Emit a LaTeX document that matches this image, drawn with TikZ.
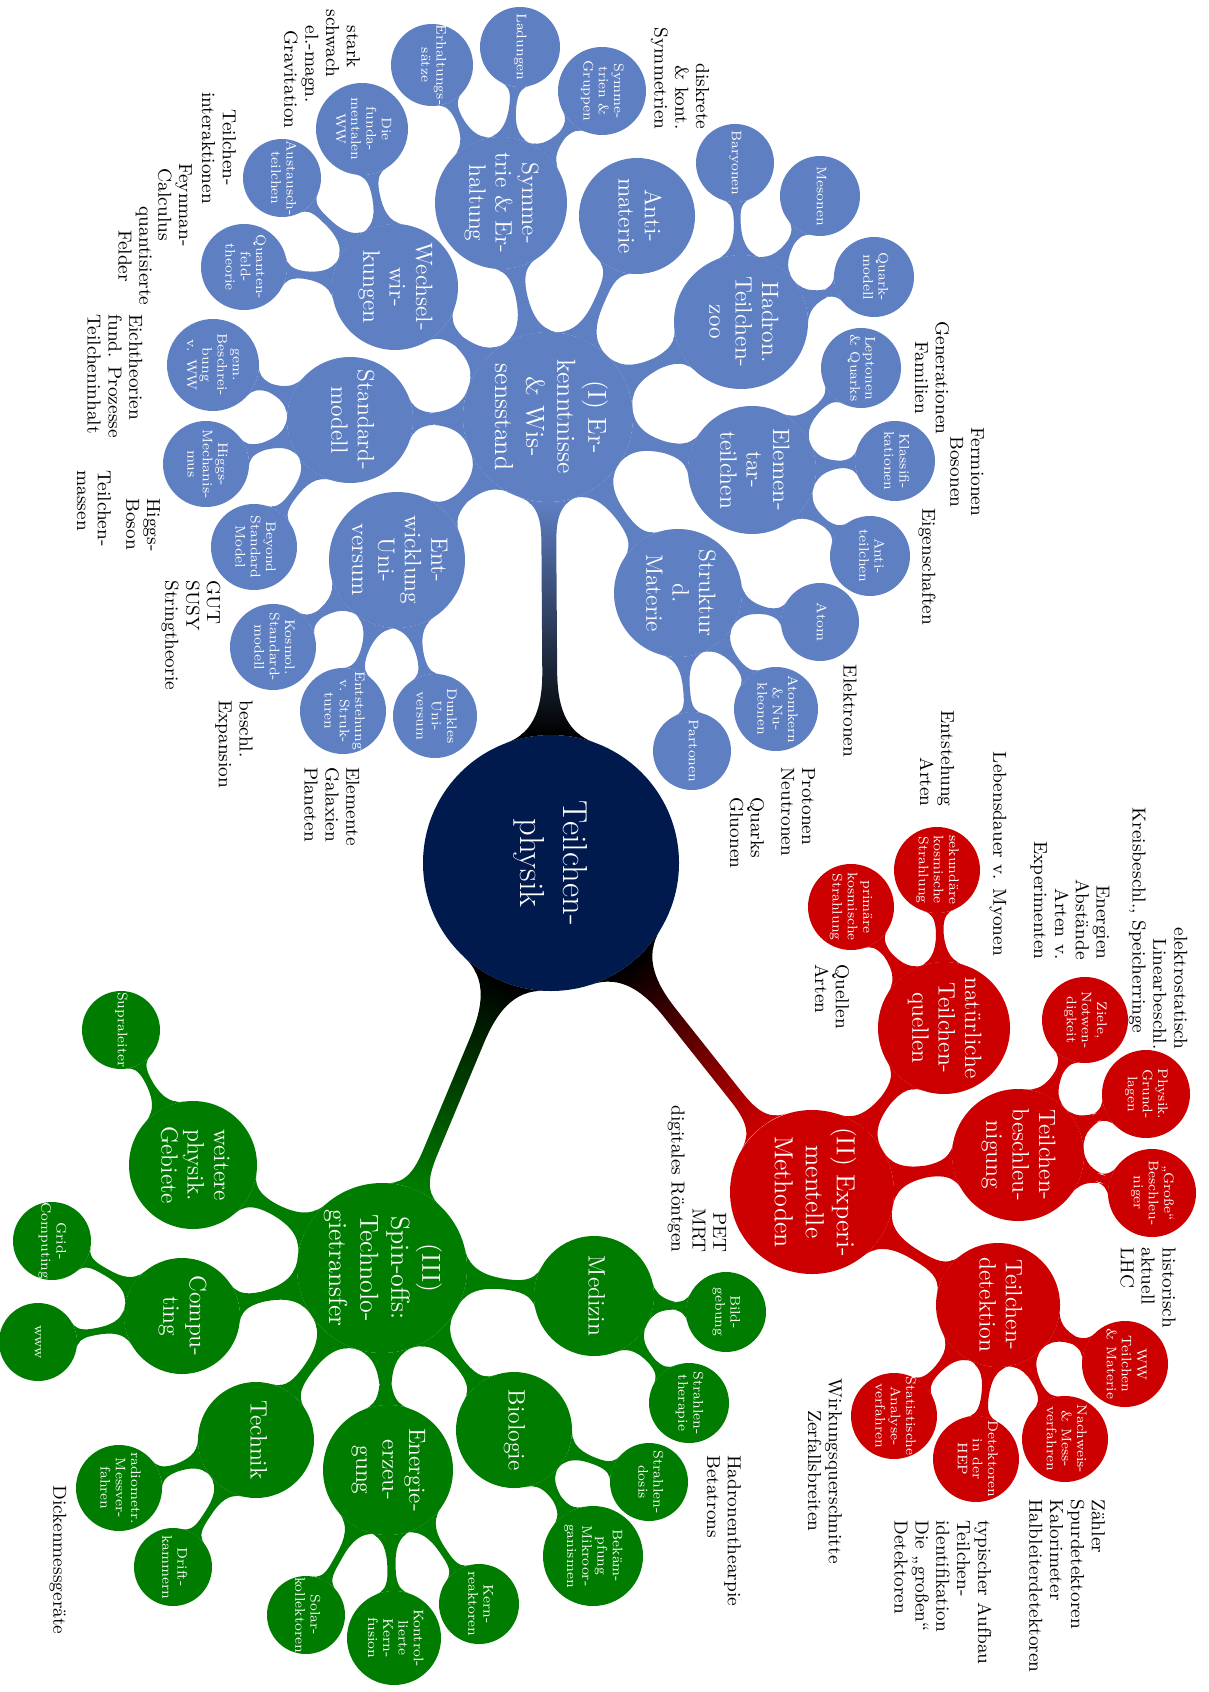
\documentclass[tikz,border=0pt]{standalone}
\usepackage{graphicx}
\usetikzlibrary{mindmap}
\pgfdeclarelayer{background}
\pgfsetlayers{background,main}
\definecolor{cblue}{RGB}{94,127,194}
\definecolor{cred}{RGB}{204,0,0}
\definecolor{cgreen}{RGB}{0,125,0}
\definecolor{croot}{RGB}{0,26,77}
\newlength\pxu \setlength\pxu{0.01755cm}
\newcommand\rtx[1]{\makebox[0pt]{\smash{\raisebox{\dimexpr-.5\height+.5\depth\relax}{\rotatebox{-90}{\begin{tabular}{@{}c@{}}#1\end{tabular}}}}}}
\begin{document}
\begin{tikzpicture}[x=\pxu,y=-\pxu,
  cpt/.style={circle,inner sep=0pt,outer sep=0pt,text=white,minimum size=2*#1*\pxu},
  f0/.style={font=\fontsize{17.3}{21.5}\selectfont},
  f1/.style={font=\fontsize{13}{15.5}\selectfont},
  f2/.style={font=\fontsize{11.8}{13.2}\selectfont},
  f3/.style={font=\fontsize{6.9}{7.6}\selectfont},
  B/.style={cpt=#1,fill=cblue}, R/.style={cpt=#1,fill=cred}, G/.style={cpt=#1,fill=cgreen},
  ann/.style={rotate=-90,inner sep=0pt,font=\fontsize{9.4}{10.4}\selectfont},
  annl/.style={ann,anchor=west,align=left},
  annr/.style={ann,anchor=east,align=right},
  annc/.style={ann,anchor=center,align=center},
  bb/.style={circle connection bar switch color=from (cblue) to (cblue)},
  rr/.style={circle connection bar switch color=from (cred) to (cred)},
  gg/.style={circle connection bar switch color=from (cgreen) to (cgreen)}]
\useasboundingbox (0,0) rectangle (1208,1692);
% root and hubs
\node[cpt=128,fill=croot,f0] (root) at (551,863) {\rtx{Teilchen-\\physik}};
\node[B=85,f1] (h1) at (548,417) {\rtx{(I) Er-\\kenntnisse\\\& Wis-\\sensstand}};
\node[R=82,f1] (h2) at (812,1192) {\rtx{(II) Experi-\\mentelle\\Methoden}};
\node[G=85,f1] (h3) at (382,1268) {\rtx{(III)\\Spin-offs:\\Technolo-\\gietransfer}};
% blue level 2
\node[B=66,f2] (sym) at (501,203) {\rtx{Symme-\\trie \& Er-\\haltung}};
\node[B=58,f2] (anti) at (637,216) {\rtx{Anti-\\materie}};
\node[B=67,f2] (hadr) at (741,322) {\rtx{Hadron.\\Teilchen-\\zoo}};
\node[B=64,f2] (elem) at (752,470) {\rtx{Elemen-\\tar-\\teilchen}};
\node[B=64,f2] (strukt) at (678,593) {\rtx{Struktur\\d.\\Materie}};
\node[B=68,f2] (entw) at (397,560) {\rtx{Ent-\\wicklung\\Uni-\\versum}};
\node[B=63,f2] (stdm) at (350,420) {\rtx{Standard-\\modell}};
\node[B=63,f2] (wech) at (395,287) {\rtx{Wechsel-\\wir-\\kungen}};
% blue level 3
\node[B=41,f3] (erh) at (432,65) {\rtx{Erhaltungs-\\sätze}};
\node[B=40,f3] (lad) at (520,47) {\rtx{Ladungen}};
\node[B=44,f3] (symgr) at (602,91) {\rtx{Symme-\\trien \&\\Gruppen}};
\node[B=39,f3] (bary) at (735,163) {\rtx{Baryonen}};
\node[B=40,f3] (meso) at (820,196) {\rtx{Mesonen}};
\node[B=40,f3] (qmod) at (874,277) {\rtx{Quark-\\modell}};
\node[B=40,f3] (lepq) at (861,368) {\rtx{Leptonen\\\& Quarks}};
\node[B=40,f3] (klass) at (895,461) {\rtx{Klassifi-\\kationen}};
\node[B=40,f3] (antit) at (870,556) {\rtx{Anti-\\teilchen}};
\node[B=39,f3] (atom) at (820,622) {\rtx{Atom}};
\node[B=42,f3] (akern) at (776,709) {\rtx{Atomkern\\\& Nu-\\kleonen}};
\node[B=39,f3] (part) at (692,751) {\rtx{Partonen}};
\node[B=42,f3] (dunk) at (435,716) {\rtx{Dunkles\\Uni-\\versum}};
\node[B=43,f3] (entst) at (343,711) {\rtx{Entstehung\\v. Struk-\\turen}};
\node[B=43,f3] (kosm) at (273,647) {\rtx{Kosmol.\\Standard-\\modell}};
\node[B=43,f3] (beyond) at (254,547) {\rtx{Beyond\\Standard\\Model}};
\node[B=43,f3] (higgs) at (206,464) {\rtx{Higgs-\\Mechanis-\\mus}};
\node[B=46,f3] (gemb) at (213,365) {\rtx{gem.\\Beschrei-\\bung\\v. WW}};
\node[B=43,f3] (qft) at (244,267) {\rtx{Quanten-\\feld-\\theorie}};
\node[B=39,f3] (aust) at (282,178) {\rtx{Austausch-\\teilchen}};
\node[B=46,f3] (fww) at (362,129) {\rtx{Die\\funda-\\mentalen\\WW}};
% red
\node[R=66,f2] (natq) at (944,1028) {\rtx{natürliche\\Teilchen-\\quellen}};
\node[R=66,f2] (beschl) at (1018,1155) {\rtx{Teilchen-\\beschleu-\\nigung}};
\node[R=62,f2] (detek) at (998,1305) {\rtx{Teilchen-\\detektion}};
\node[R=43,f3] (sek) at (937,870) {\rtx{sekundäre\\kosmische\\Strahlung}};
\node[R=43,f3] (prim) at (851,907) {\rtx{primäre\\kosmische\\Strahlung}};
\node[R=43,f3] (ziele) at (1085,1020) {\rtx{Ziele,\\Notwen-\\digkeit}};
\node[R=44,f3] (phys) at (1146,1094) {\rtx{Physik.\\Grund-\\lagen}};
\node[R=44,f3] (gross) at (1152,1193) {\rtx{„Große“\\Beschleu-\\niger}};
\node[R=43,f3] (wwtm) at (1125,1364) {\rtx{WW\\Teilchen\\\& Materie}};
\node[R=43,f3] (nachw) at (1065,1439) {\rtx{Nachweis-\\\& Mess-\\verfahren}};
\node[R=43,f3] (dhep) at (976,1459) {\rtx{Detektoren\\in der\\HEP}};
\node[R=43,f3] (stat) at (894,1416) {\rtx{Statistische\\Analyse-\\verfahren}};
% green
\node[G=60,f2] (med) at (594,1296) {\rtx{Medizin}};
\node[G=58,f2] (bio) at (514,1430) {\rtx{Biologie}};
\node[G=65,f2] (energ) at (388,1470) {\rtx{Energie-\\erzeu-\\gung}};
\node[G=58,f2] (tech) at (256,1440) {\rtx{Technik}};
\node[G=58,f2] (comp) at (182,1316) {\rtx{Compu-\\ting}};
\node[G=64,f2] (weit) at (193,1165) {\rtx{weitere\\physik.\\Gebiete}};
\node[G=40,f3] (bild) at (726,1312) {\rtx{Bild-\\gebung}};
\node[G=40,f3] (sther) at (689,1403) {\rtx{Strahlen-\\therapie}};
\node[G=39,f3] (sdos) at (649,1482) {\rtx{Strahlen-\\dosis}};
\node[G=50,f3] (bek) at (593,1556) {\rtx{Bekäm-\\pfung\\Mikroor-\\ganismen}};
\node[G=40,f3] (kernr) at (479,1604) {\rtx{Kern-\\reaktoren}};
\node[G=47,f3] (kfus) at (394,1638) {\rtx{Kontrol-\\lierte\\Kern-\\fusion}};
\node[G=39,f3] (solar) at (306,1615) {\rtx{Solar-\\kollektoren}};
\node[G=39,f3] (drift) at (173,1567) {\rtx{Drift-\\kammern}};
\node[G=43,f3] (radio) at (119,1488) {\rtx{radiometr.\\Messver-\\fahren}};
\node[G=39,f3] (www) at (38,1342) {\rtx{www}};
\node[G=39,f3] (grid) at (52,1241) {\rtx{Grid-\\Computing}};
\node[G=39,f3] (supra) at (121,1030) {\rtx{Supraleiter}};
% connection bars
\begin{pgfonlayer}{background}
\fill[white] (0,0) rectangle (1208,1692);
\path (root) to[circle connection bar switch color=from (black) to (cblue)] (h1);
\path (root) to[circle connection bar switch color=from (black) to (cred)] (h2);
\path (root) to[circle connection bar switch color=from (black) to (cgreen)] (h3);
\foreach \a in {sym,anti,hadr,elem,strukt,entw,stdm,wech} {\path (h1) to[bb] (\a);}
\foreach \a/\b in {sym/erh,sym/lad,sym/symgr,hadr/bary,hadr/meso,hadr/qmod,elem/lepq,elem/klass,elem/antit,strukt/atom,strukt/akern,strukt/part,entw/dunk,entw/entst,entw/kosm,stdm/beyond,stdm/higgs,stdm/gemb,wech/qft,wech/aust,wech/fww} {\path (\a) to[bb] (\b);}
\foreach \a in {natq,beschl,detek} {\path (h2) to[rr] (\a);}
\foreach \a/\b in {natq/sek,natq/prim,beschl/ziele,beschl/phys,beschl/gross,detek/wwtm,detek/nachw,detek/dhep,detek/stat} {\path (\a) to[rr] (\b);}
\foreach \a in {med,bio,energ,tech,comp,weit} {\path (h3) to[gg] (\a);}
\foreach \a/\b in {med/bild,med/sther,bio/sdos,bio/bek,energ/kernr,energ/kfus,energ/solar,tech/radio,tech/drift,comp/www,comp/grid,weit/supra} {\path (\a) to[gg] (\b);}
\end{pgfonlayer}
% annotations
\node[annl] (a1) at (322,9) {\hspace*{8pt}stark\\schwach\\\hspace*{8pt}el.-magn.\\\hspace*{10.5pt}Gravitation};
\node[annc] (a2) at (219,148) {Teilchen-\\interaktionen};
\node[annc] (a3) at (175,205) {Feynman-\\Calculus};
\node[annc] (a4) at (135,256) {quantisierte\\Felder};
\node[annl] (a5) at (115,314) {Eichtheorien\\fund. Prozesse\\Teilcheninhalt};
\node[annl] (a6) at (143,498) {Higgs-\\Boson};
\node[annl] (a7) at (94,470) {Teilchen-\\massen};
\node[annl] (a8) at (191,580) {GUT\\SUSY\\Stringtheorie};
\node[annl] (a9) at (234,700) {beschl.\\Expansion};
\node[annl] (a10) at (332,767) {Elemente\\Galaxien\\Planeten};
\node[annr] (a11) at (680,130) {diskrete\\\& kont.\\Symmetrien};
\node[annc] (a12) at (932,378) {Generationen\\Familien};
\node[annc] (a13) at (967,472) {Fermionen\\Bosonen};
\node[annc] (a14) at (927,567) {Eigenschaften};
\node[annc] (a15) at (850,711) {Elektronen};
\node[annr] (a16) at (937,807) {Entstehung\\Arten};
\node[annc] (a17) at (998,854) {Lebensdauer v. Myonen};
\node[annl] (a18) at (798,767) {Protonen\\Neutronen};
\node[annl] (a19) at (747,797) {Quarks\\Gluonen};
\node[annr] (a20) at (1158,1050) {elektrostatisch\\Linearbeschl.\hspace*{8pt}\\Kreisbeschl., Speicherringe\hspace*{8pt}};
\node[annr] (a21) at (1070,960) {Energien\\Abstände\\Arten v.\\Experimenten};
\node[annl] (a22) at (832,964) {Quellen\\Arten};
\node[annl] (a23) at (1148,1247) {historisch\\aktuell\\LHC};
\node[annl] (a24) at (1067,1499) {Zähler\\Spurdetektoren\\Kalorimeter\\Halbleiterdetektoren};
\node[annl] (a25) at (943,1520) {typischer Aufbau\\Teilchen-\\identifikation\\Die „großen“\\Detektoren};
\node[annc] (a26) at (825,1471) {Wirkungsquerschnitte\\Zerfallsbreiten};
\node[annr] (a27) at (697,1253) {PET\\MRT\\digitales Röntgen};
\node[annl] (a28) at (724,1455) {Hadronenthearpie\\Betatrons};
\node[annc] (a29) at (58,1560) {Dickenmessgeräte};
\end{tikzpicture}
\end{document}
